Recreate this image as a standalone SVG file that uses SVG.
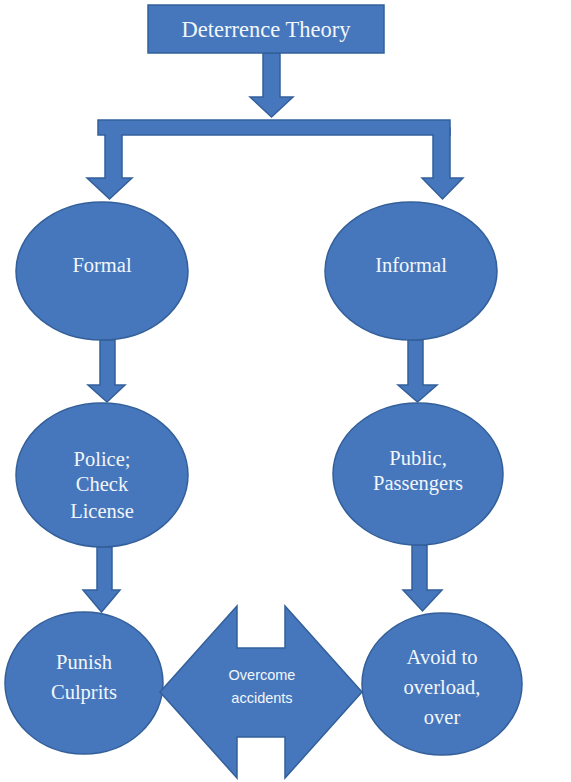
<svg xmlns="http://www.w3.org/2000/svg" width="571" height="782" viewBox="0 0 571 782">
<style>
.s{fill:#4676bc;stroke:#33609a;stroke-width:1.5}
.t{font-family:"Liberation Serif",serif;fill:#f2f6fb;text-anchor:middle;font-size:20.5px}
.u{font-family:"Liberation Sans",sans-serif;fill:#f2f6fb;text-anchor:middle;font-size:14.5px}
</style>
<rect width="571" height="782" fill="#fff"/>
<g id="connectors">
<polygon class="s" points="263,53 280,53 280,97 293,97 271.5,117 250,97 263,97"/>
<polygon class="s" points="105,128 122,128 122,178 132,178 109.5,199 87,178 105,178"/>
<polygon class="s" points="433,128 450,128 450,178 463,178 442.5,199 422,178 433,178"/>
<rect class="s" x="98" y="120" width="352" height="15"/>
<rect x="106" y="130" width="15" height="8" fill="#4676bc"/>
<rect x="434" y="130" width="15" height="8" fill="#4676bc"/>
<polygon class="s" points="100,340 115,340 115,385 125,385 107,402 88,385 100,385"/>
<polygon class="s" points="408,340 423,340 423,385 437,385 417.5,402 398,385 408,385"/>
<polygon class="s" points="97,547 112,547 112,590 120,590 101.5,612 83,590 97,590"/>
<polygon class="s" points="412,545 427,545 427,590 442,590 422.5,611 403,590 412,590"/>
</g>
<g id="deterrence">
<rect class="s" x="148" y="5" width="236" height="48"/>
<text class="t" x="266" y="37" style="font-size:22.5px">Deterrence Theory</text>
</g>
<g id="formal">
<ellipse class="s" cx="102" cy="271" rx="86" ry="69"/>
<text class="t" x="102" y="272">Formal</text>
</g>
<g id="informal">
<ellipse class="s" cx="411" cy="271" rx="86" ry="69"/>
<text class="t" x="411" y="272">Informal</text>
</g>
<g id="police">
<ellipse class="s" cx="102" cy="475" rx="86" ry="72"/>
<text class="t" x="102" y="466">Police;</text>
<text class="t" x="102" y="491">Check</text>
<text class="t" x="102" y="518">License</text>
</g>
<g id="public">
<ellipse class="s" cx="418" cy="474" rx="85" ry="71"/>
<text class="t" x="418" y="465">Public,</text>
<text class="t" x="418" y="490">Passengers</text>
</g>
<g id="punish">
<ellipse class="s" cx="84" cy="683" rx="79" ry="71"/>
<text class="t" x="84" y="669">Punish</text>
<text class="t" x="84" y="699">Culprits</text>
</g>
<g id="overcome">
<polygon class="s" points="160,692 237,606 237,648 285,648 285,606 362,692 285,778 285,737 237,737 237,778"/>
<text class="u" x="262" y="680">Overcome</text>
<text class="u" x="262" y="703">accidents</text>
</g>
<g id="avoid">
<ellipse class="s" cx="442" cy="684" rx="80" ry="71"/>
<text class="t" x="442" y="664">Avoid to</text>
<text class="t" x="442" y="694">overload,</text>
<text class="t" x="442" y="724">over</text>
</g>
</svg>
